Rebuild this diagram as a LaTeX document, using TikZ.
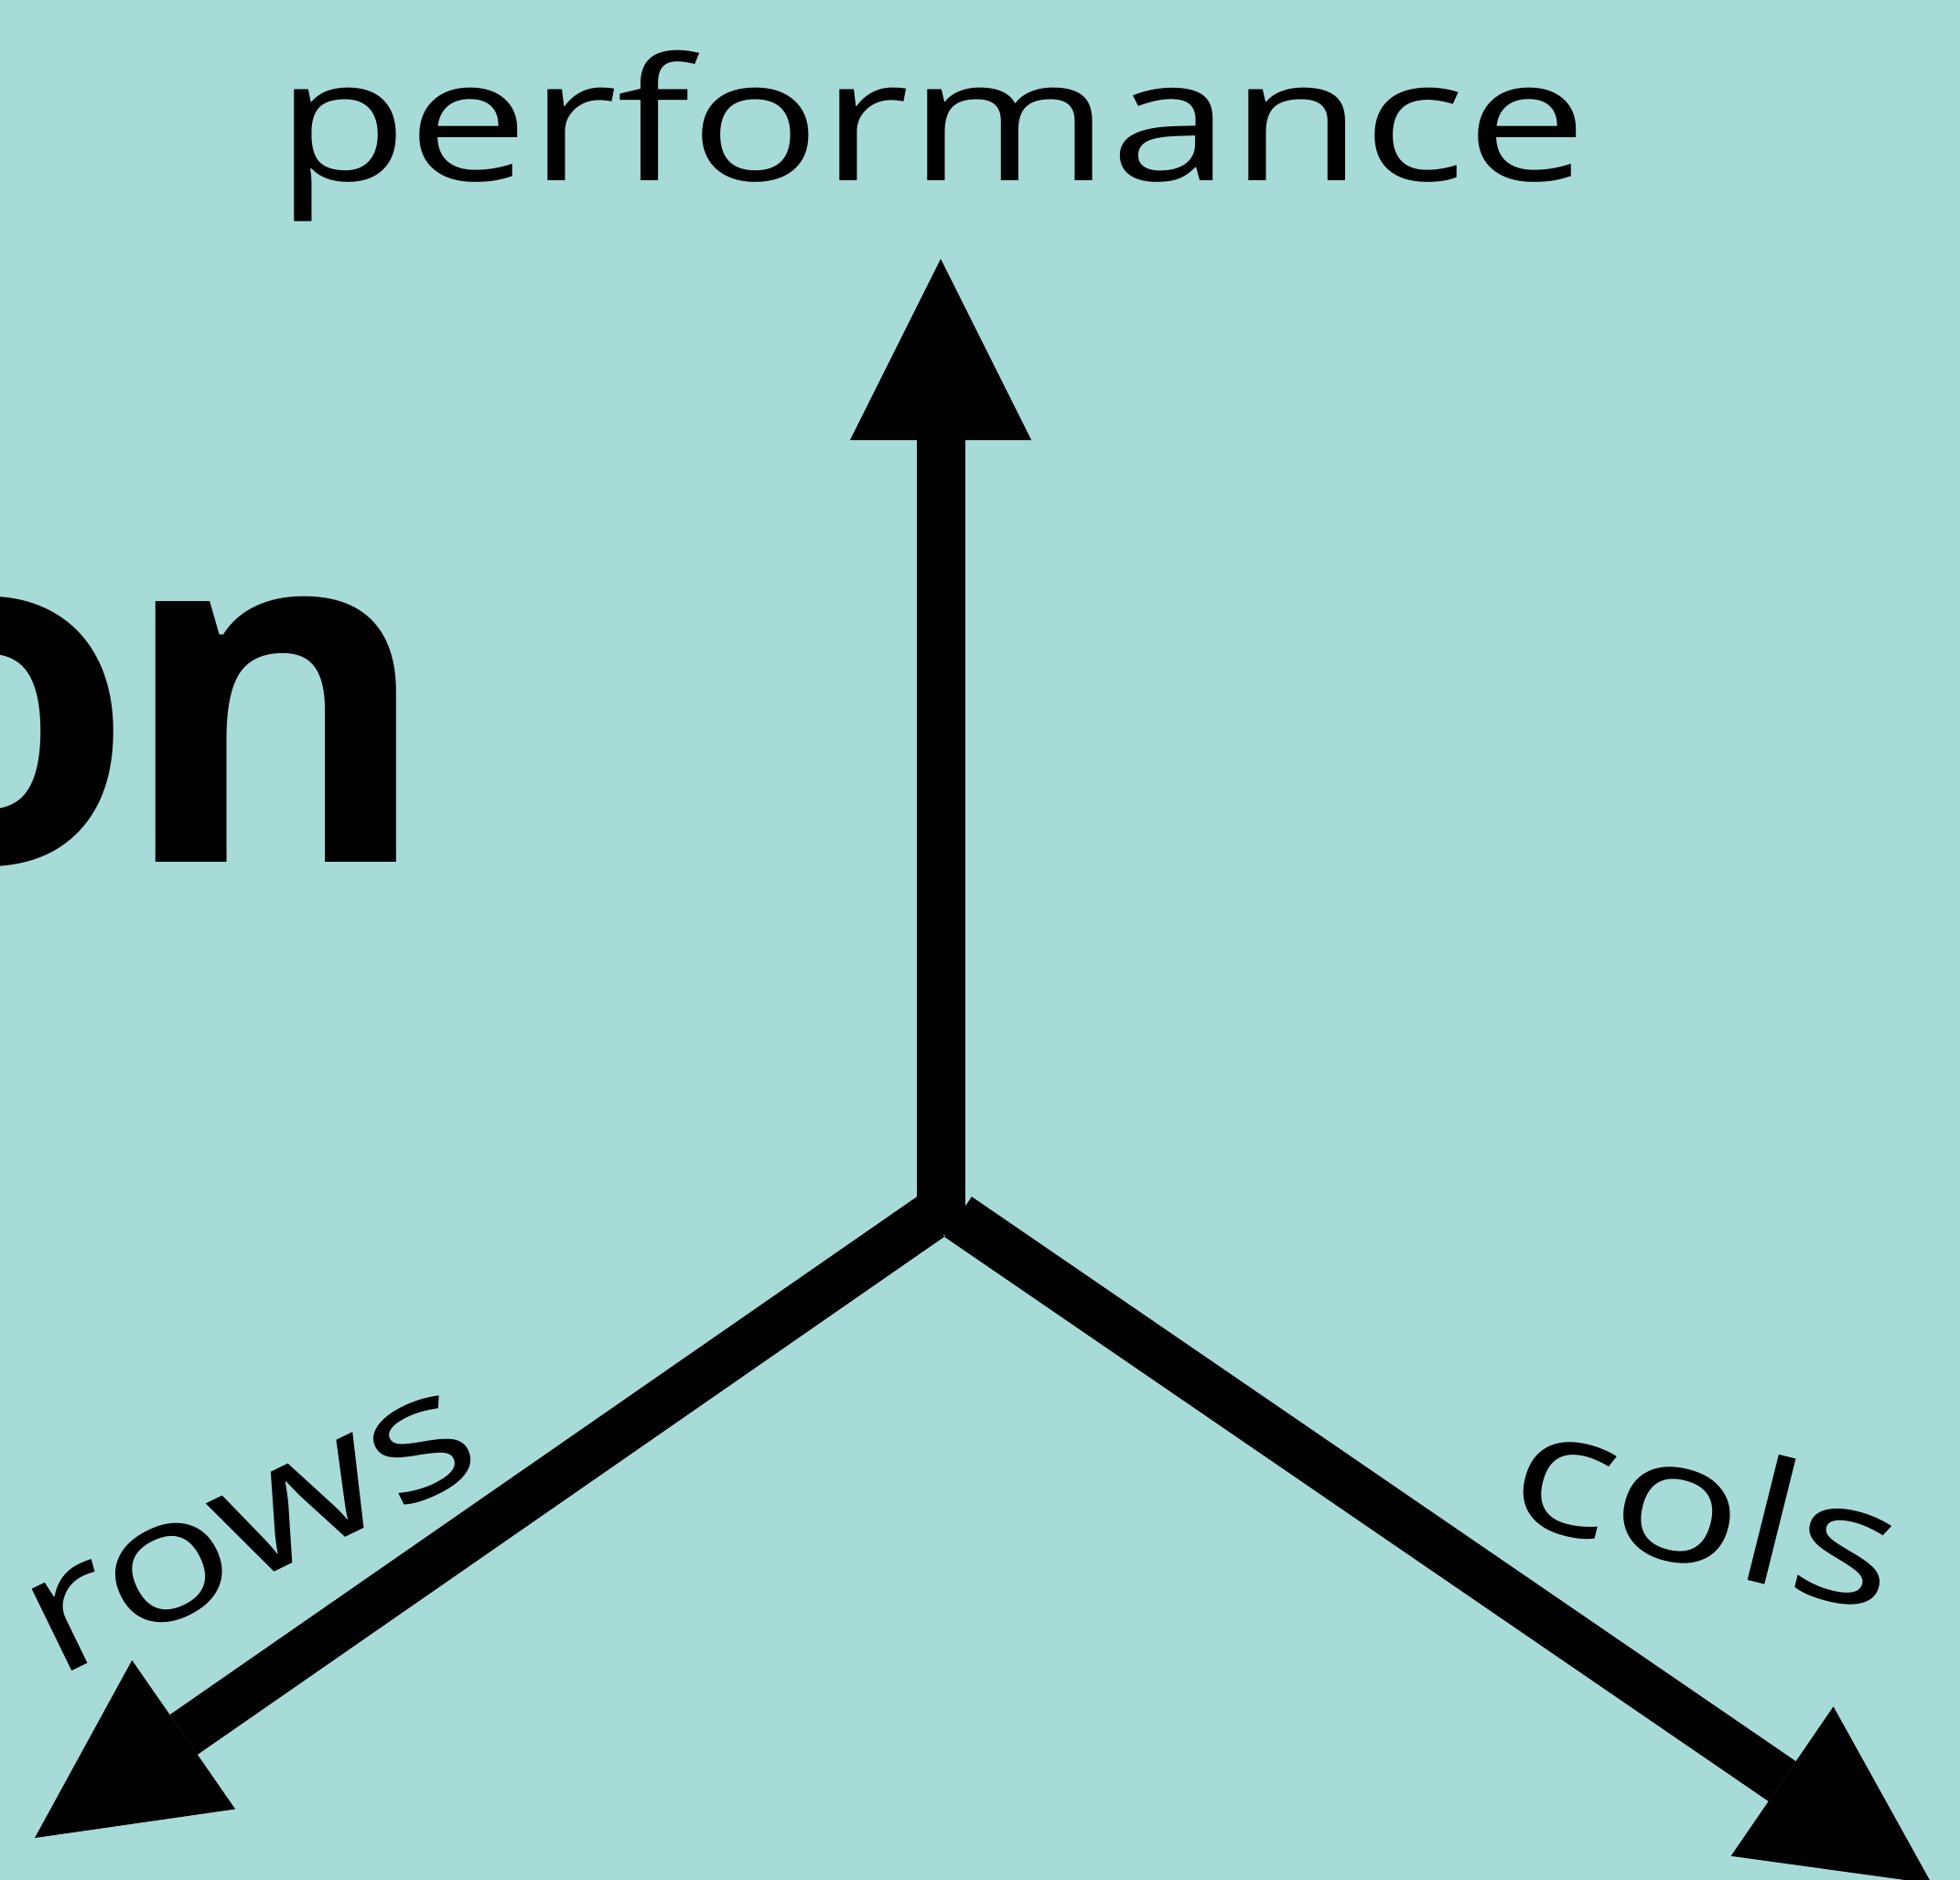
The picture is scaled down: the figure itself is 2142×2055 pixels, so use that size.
\documentclass[tikz,border=0pt]{standalone}
\usepackage{fontspec}
\setmainfont{Open Sans}
\newfontfamily\hand{Open Sans}
\usetikzlibrary{arrows.meta}
\definecolor{bg}{HTML}{A7DBD8}
\begin{document}
\begin{tikzpicture}[x=0.5pt,y=-0.5pt,
  axis/.style={line width=26.5pt, line cap=butt, -{Triangle[length=99pt,width=99pt,line width=0pt]}},
  lbl/.style={inner sep=0pt, font=\hand\fontsize{93}{93}\selectfont}]
\useasboundingbox (0,0) rectangle (2142,2055);
\clip (0,0) rectangle (2142,2055);
\fill[bg] (0,0) rectangle (2142,2055);
\node[anchor=base east, inner sep=0pt, font=\bfseries\fontsize{261}{261}\selectfont] (on) at (473,942) {o\kern-9pt n};
\coordinate (Oup) at (1028,1350);
\coordinate (Tup) at (1028,283);
\coordinate (Oleft) at (1017,1330);
\coordinate (Tleft) at (38,2009);
\coordinate (Oright) at (1047,1330);
\coordinate (Tright) at (2111,2059);
\draw[axis] (Oup) -- (Tup);
\draw[axis] (Oleft) -- (Tleft);
\draw[axis] (Oright) -- (Tright);
\node[lbl, anchor=base] (perf) at (1018,198) {\scalebox{1.27}[1]{performance}};
\node[lbl, anchor=base, rotate=26] (rows) at (297,1720) {\scalebox{1.27}[1]{rows}};
\node[lbl, anchor=base, rotate=-14] (cols) at (1850,1712) {\scalebox{1.27}[1]{cols}};
\end{tikzpicture}
\end{document}
